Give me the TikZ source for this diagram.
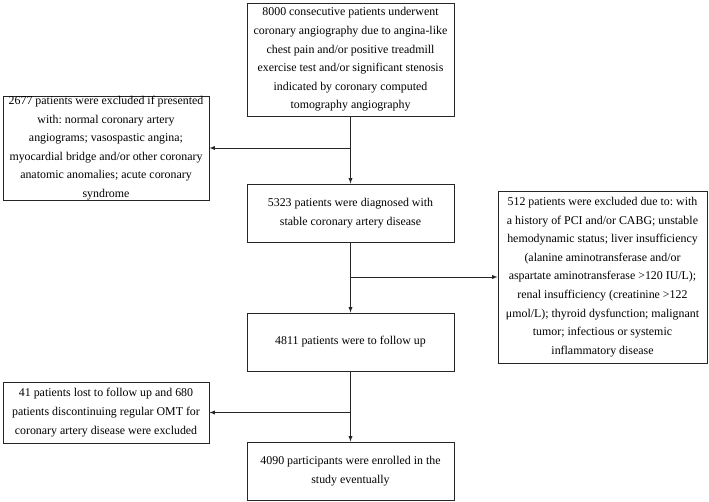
\documentclass[tikz,border=0pt]{standalone}
\usepackage{fontspec}
\setmainfont{Liberation Serif}
\frenchspacing
\usepackage{tikz}
\usetikzlibrary{
    positioning,
    calc,
    arrows
}
\tikzset{
  basic/.style = {
      draw=black!85,
      line width=0.9pt,
      rectangle,
      align=center,
      inner sep=0pt,
      font=\fontsize{11.9}{18.6}\selectfont
  },
  mainbox/.style = {
      basic,
      minimum width=207pt
  },
  sidebox/.style = {
      basic,
      minimum width=206pt
  },
  edge/.style = {
      draw=black!85,
      line width=0.9pt
  },
  arrow/.style = {
      edge,
      -latex
  }
}

\begin{document}
\begin{tikzpicture}[x=1pt, y=-1pt]
        \useasboundingbox (0,0) rectangle (709,502);
        % main column
        \node[mainbox, minimum height=113pt] (start) at (350.5,59.5)
            {8000 consecutive patients underwent\\
             coronary angiography due to angina-like\\
             chest pain and/or positive treadmill\\
             exercise test and/or significant stenosis\\
             indicated by coronary computed\\
             tomography angiography};
        \node[mainbox, minimum height=58pt] (diag) at (350.5,213)
            {5323 patients were diagnosed with\\
             stable coronary artery disease};
        \node[mainbox, minimum height=58pt] (follow) at (350.5,342)
            {4811 patients were to follow up};
        \node[mainbox, minimum height=58pt] (final) at (350.5,471)
            {4090 participants were enrolled in the\\
             study eventually};
        % exclusions
        \node[sidebox, minimum height=102pt] (exclA) at (106,148)
            {2677 patients were excluded if presented\\
             with: normal coronary artery\\
             angiograms; vasospastic angina;\\
             myocardial bridge and/or other coronary\\
             anatomic anomalies; acute coronary\\
             syndrome};
        \node[sidebox, minimum width=209pt,
              minimum height=172pt] (exclB) at (602.5,277)
            {512 patients were excluded due to: with\\
             a history of PCI and/or CABG; unstable\\
             hemodynamic status; liver insufficiency\\
             (alanine aminotransferase and/or\\
             aspartate aminotransferase >120 IU/L);\\
             renal insufficiency (creatinine >122\\
             μmol/L); thyroid dysfunction; malignant\\
             tumor; infectious or systemic\\
             inflammatory disease};
        \node[sidebox, minimum height=61pt] (exclC) at (106,412.5)
            {41 patients lost to follow up and 680\\
             patients discontinuing regular OMT for\\
             coronary artery disease were excluded};
        % Edges
        \draw[arrow] (start) -- (diag);
        \draw[arrow] (diag) -- (follow);
        \draw[arrow] (follow) -- (final);
        \draw[arrow] (exclA.east -| start.south) -- (exclA.east);
        \draw[arrow] (exclB.west -| diag.south) -- (exclB.west);
        \draw[arrow] (exclC.east -| follow.south) -- (exclC.east);
    \end{tikzpicture}
\end{document}
